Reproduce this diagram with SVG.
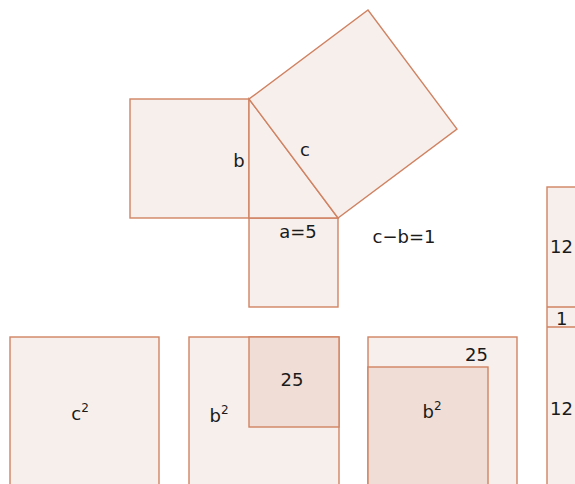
<svg xmlns="http://www.w3.org/2000/svg" width="575" height="484" viewBox="0 0 575 484">
<style>
.s{fill:#f7efeb;stroke:#d08363;stroke-width:1.4}
.d{fill:#f0ddd5;stroke:#d08363;stroke-width:1.4}
text{font-family:"DejaVu Sans","Liberation Sans",sans-serif;font-size:18px;fill:#1a1a1a}
.m{text-anchor:middle}
.sup{font-size:12px}
</style>
<rect width="575" height="484" fill="#fff"/>
<g id="square-b"><rect class="s" x="130" y="99" width="119" height="119"/><text class="m" x="239" y="167">b</text></g>
<g id="square-a"><rect class="s" x="249" y="218" width="89" height="89"/><text class="m" x="298" y="238">a=5</text></g>
<g id="triangle"><polygon class="s" points="249,99 249,218 338,218"/></g>
<g id="square-c"><polygon class="s" points="249,99 338,218 457,129 368,10"/><text class="m" x="305" y="156">c</text></g>
<g id="label-cb"><text class="m" x="404" y="243">c−b=1</text></g>
<g id="sq1"><rect class="s" x="10" y="337" width="149" height="160"/><text class="m" x="80" y="420">c<tspan class="sup" dy="-8">2</tspan></text></g>
<g id="sq2"><rect class="s" x="189" y="337" width="150" height="160"/><rect class="d" x="249" y="337" width="90" height="90"/><text class="m" x="292" y="386">25</text><text class="m" x="219" y="422">b<tspan class="sup" dy="-8">2</tspan></text></g>
<g id="sq3"><rect class="s" x="368" y="337" width="149" height="160"/><rect class="d" x="368" y="367" width="120" height="130"/><text x="488" y="361" text-anchor="end">25</text><text class="m" x="432" y="418">b<tspan class="sup" dy="-8">2</tspan></text></g>
<g id="strip"><rect class="s" x="547" y="187" width="40" height="310"/><line x1="547" y1="307" x2="587" y2="307" stroke="#d08363" stroke-width="1.4"/><line x1="547" y1="327" x2="587" y2="327" stroke="#d08363" stroke-width="1.4"/><text x="550" y="253">12</text><text x="556" y="325">1</text><text x="550" y="415">12</text></g>
</svg>
